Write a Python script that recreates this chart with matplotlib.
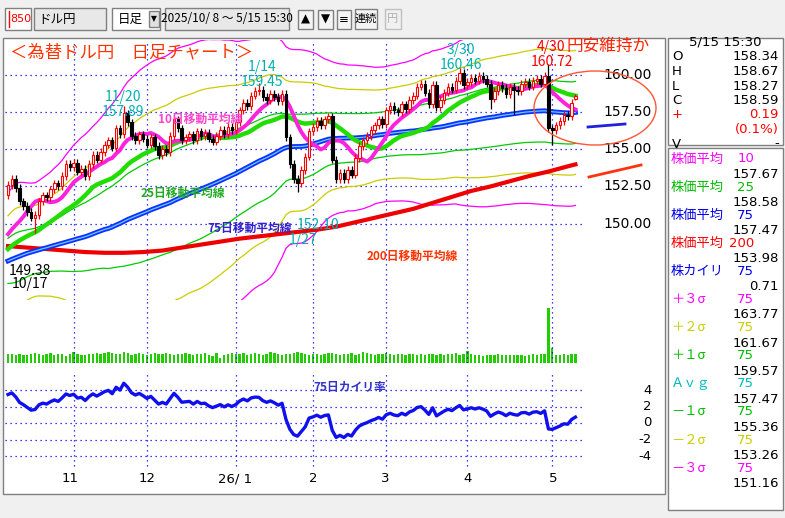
import numpy as np
import pandas as pd
import matplotlib
matplotlib.use("Agg")
import matplotlib.pyplot as plt
from matplotlib.patches import Rectangle, Ellipse

plt.rcParams['font.family'] = ['Noto Sans CJK JP', 'DejaVu Sans']

# ---------------- data ----------------
prior_closes = [144.5, 144.6, 144.0,
    143.4, 143.7, 144.5, 144.9, 145.9, 146.3, 146.8, 146.2, 147.3, 147.6, 147.7, 147.8, 148.4, 148.6, 147.4,
    148.8, 147.6, 147.3, 146.6, 146.9, 147.7, 148.2, 150.7,
    147.4, 147.0, 147.6, 147.4, 147.1, 147.7, 147.8, 148.2, 147.3, 147.8, 147.2, 147.7, 147.3, 147.7, 147.8,
    148.4, 147.0, 147.4, 147.4, 146.9, 147.1,
    148.4, 148.2, 148.1, 147.4, 147.7, 147.3, 147.4, 147.3, 147.2, 147.7, 147.5, 146.9, 147.4, 147.9, 148.0,
    147.7, 148.3, 148.8, 149.8, 149.5, 148.9, 148.1,
    147.1, 147.3, 147.5, 150.3, 151.9]

closes = [152.6, 153.0, 152.4, 151.5, 151.2, 150.8, 150.4, 150.6, 151.5, 151.9,
    151.8, 152.3, 152.7, 152.5, 153.2, 154.0, 153.8, 154.1,
    153.5, 153.7, 153.2, 154.0, 154.6, 154.3, 154.8,
    155.3, 155.6, 155.1, 156.4, 156.0, 157.4,
    156.8, 155.9, 155.6, 156.0, 155.7, 155.3,
    155.8, 155.2, 154.6, 155.0, 154.8, 155.9, 157.0, 156.4,
    155.6, 155.8, 156.0, 155.6, 156.2, 155.9, 156.1, 155.7,
    155.5, 155.9, 156.3, 156.0, 156.5, 156.3,
    156.8, 157.6, 158.1, 157.9, 158.6, 158.9,
    159.0, 158.5, 158.3, 158.7, 158.5, 158.2, 158.7,
    155.8, 154.0, 153.0, 152.7,
    153.6, 154.5, 156.2, 156.5, 156.9, 156.6, 157.0, 157.2,
    154.3, 153.0, 153.4, 153.0, 153.6, 153.3, 154.4,
    155.2, 155.6, 155.9, 156.3, 156.6, 157.0, 156.7,
    157.6, 157.9, 157.6, 157.5, 158.0, 157.7, 158.3, 158.6,
    159.2, 159.4, 158.8, 158.0, 159.3, 157.8, 158.3,
    158.8, 159.2, 159.0, 159.6, 160.1, 159.3,
    159.5, 159.8, 159.6, 159.9, 159.7, 159.4, 158.4, 158.9,
    159.3, 159.1, 158.7, 159.2, 159.0, 158.9, 159.4,
    159.5, 159.2, 159.6, 159.7, 159.4, 159.9, 156.4,
    156.3, 156.6, 156.9, 157.3, 157.2, 158.1, 158.59]

high_override = {30: 157.89, 65: 159.45, 117: 160.46, 140: 160.72, 147: 158.67}
low_override = {7: 149.38, 75: 152.10, 141: 155.3, 125: 157.7, 131: 157.3, 147: 158.27}

volume = [9, 9, 8, 9, 8, 8, 9, 10, 9, 8, 9, 10, 8, 9, 9, 7, 9, 11, 9, 8, 8, 9, 9, 10, 9,
          10, 11, 10, 9, 9, 11, 10, 8, 9, 10, 9, 8, 9, 10, 9, 9, 10, 9, 8, 9, 9, 10, 9, 8, 9,
          9, 10, 8, 7, 10, 5, 8, 9, 10, 9, 9, 10, 8, 9, 10, 9, 8, 9, 11, 10, 9, 8, 9, 9, 10,
          11, 10, 9, 8, 9, 9, 8, 9, 10, 10, 9, 8, 9, 9, 10, 8, 9, 11, 10, 9, 8, 9, 9, 10, 9,
          8, 9, 9, 8, 9, 9, 8, 9, 8, 9, 9, 8, 9, 8, 9, 9, 10, 8, 9, 12, 9, 8, 8, 7, 8, 8,
          8, 9, 8, 8, 8, 8, 8, 8, 7, 8, 9, 8, 9, 9, 55, 15, 8, 8, 9, 8, 9, 9]

ma200_idx = list(range(0, 146, 5)) + [147]
ma200_val = [148.5, 148.4, 148.3, 148.2, 148.1, 148.05, 148.05, 148.1, 148.2, 148.4, 148.6, 148.8,
             149.0, 149.15, 149.3, 149.45, 149.6, 149.8, 150.1, 150.4, 150.7, 151.0, 151.4, 151.8,
             152.2, 152.5, 152.85, 153.2, 153.5, 153.85, 153.98]

month_idx = [17, 36, 59, 79, 98, 119, 141]
month_lbl_x = [70, 147, 235, 313, 385, 468, 553]
month_lbl = ["11", "12", "26/ 1", "2", "3", "4", "5"]
price_ticks = [160.0, 157.5, 155.0, 152.5, 150.0]
kairi_ticks = [4, 2, 0, -2, -4]

# ---------------- derived ----------------
N = len(closes)
allc = pd.Series(prior_closes + closes)
P = len(prior_closes)
ma10 = allc.rolling(10).mean().values[P:]
ma25 = allc.rolling(25).mean().values[P:]
ma75 = allc.rolling(75, min_periods=60).mean().values[P:]
sd75 = allc.rolling(75, min_periods=60).std(ddof=0).values[P:]
c = np.array(closes)
o = np.array([prior_closes[-1]] + closes[:-1])
o[147] = 158.34
hi = np.maximum(o, c) + 0.25
lo = np.minimum(o, c) - 0.25
for k, v in high_override.items(): hi[k] = v
for k, v in low_override.items(): lo[k] = v
kairi = (c - ma75) / ma75 * 100
x = np.arange(N)

W, H = 785, 518
fig = plt.figure(figsize=(W/100, H/100), dpi=100, facecolor='#f0f0f0')

def ax_px(x0, y0, x1, y1, z=1):
    a = fig.add_axes([x0/W, 1-y1/H, (x1-x0)/W, (y1-y0)/H])
    a.set_zorder(z)
    return a

bg = ax_px(0, 0, W, H, z=0)
bg.set_xlim(0, W); bg.set_ylim(H, 0); bg.axis('off')
bg.add_patch(Rectangle((3, 38), 662, 456, facecolor='white', edgecolor='#808080', lw=1))
bg.add_patch(Rectangle((668, 38), 115, 107, facecolor='white', edgecolor='#808080', lw=1))
bg.add_patch(Rectangle((668, 148), 115, 362, facecolor='white', edgecolor='#808080', lw=1))

XL = (-0.78, 170.2)
dot = dict(color='#0000ff', lw=0.9, ls=(0, (1, 3)))

# main price axes
ax = ax_px(5, 40, 665, 300, z=2)
ax.set_facecolor('none')
ax.set_xlim(*XL)
ax.set_ylim(160 - 260/17.2, 160 + 40/17.2)
ax.axis('off')
for t in price_ticks:
    ax.plot([XL[0], 149], [t, t], **dot, zorder=1)
    ax.text(166.8, t, f"{t:.2f}", ha='right', va='center', fontsize=10, family='DejaVu Sans')
for m in month_idx:
    ax.axvline(m, **dot, zorder=1)

for k, col in [(3, '#ff00ff'), (2, '#cccc00'), (1, '#00cc00')]:
    ax.plot(x, ma75 + k*sd75, color=col, lw=0.9, zorder=2)
    ax.plot(x, ma75 - k*sd75, color=col, lw=0.9, zorder=2)
ax.plot(ma200_idx, ma200_val, color='#ee0000', lw=3, zorder=3)
ax.plot(x, ma75, color='#1030ff', lw=3.5, zorder=3)
ax.plot(x, ma75, color='#66ccff', lw=0.9, zorder=3)
ax.plot(x, ma25, color='#22dd00', lw=3.2, zorder=4)
ax.plot(x, ma10, color='#ff22dd', lw=2.8, zorder=5)

up = c >= o
ax.vlines(x[up], lo[up], hi[up], color='red', lw=0.9, zorder=6)
ax.vlines(x[~up], lo[~up], hi[~up], color='black', lw=0.9, zorder=6)
body = np.maximum(np.abs(c - o), 0.04)
ax.bar(x[up], body[up], bottom=np.minimum(o, c)[up], width=0.65, facecolor='white', edgecolor='red', lw=0.8, zorder=7)
ax.bar(x[~up], body[~up], bottom=np.minimum(o, c)[~up], width=0.65, facecolor='black', edgecolor='black', lw=0.8, zorder=7)

# volume
av = ax_px(5, 300, 665, 363, z=2)
av.set_facecolor('none'); av.axis('off')
av.set_xlim(*XL); av.set_ylim(0, 63)
av.bar(x, volume, width=0.6, color='#22cc00')
for m in month_idx:
    av.axvline(m, **dot)

# kairi
ak = ax_px(5, 372, 665, 470, z=2)
ak.set_facecolor('none'); ak.axis('off')
ak.set_xlim(*XL); ak.set_ylim(-(470-423)/8.25, (423-372)/8.25)
for t in kairi_ticks:
    ak.plot([XL[0], 149], [t, t], **dot)
    ak.text(166.8, t, str(t), ha='right', va='center', fontsize=9.5, family='DejaVu Sans')
for m in month_idx:
    ak.plot([m, m], [-5.2, 6.2], **dot)
ak.plot(x, kairi, color='#1010ee', lw=2.4)

# overlay
ov = ax_px(0, 0, W, H, z=5)
ov.set_facecolor('none'); ov.set_xlim(0, W); ov.set_ylim(H, 0); ov.axis('off')
for xl, lb in zip(month_lbl_x, month_lbl):
    ov.text(xl, 479, lb, ha='center', va='center', fontsize=9.5, family='DejaVu Sans')

ov.text(10, 52, "＜為替ドル円　日足チャート＞", color='#ff3300', fontsize=12.5, va='center')
ov.text(566, 46, "円安維持か", color='#ff2200', fontsize=12, va='center')
ov.text(551, 47, "4/30", color='#ff0000', fontsize=10, ha='center', va='center')
ov.text(552, 62, "160.72", color='#ff0000', fontsize=10, ha='center', va='center')
cy = '#00b0b0'
for (xx, y1, a, b) in [(461, 50, "3/30", "160.46"), (262, 67, "1/14", "159.45"), (123, 97, "11/20", "157.89")]:
    ov.text(xx, y1, a, color=cy, fontsize=10, ha='center', va='center')
    ov.text(xx, y1 + 15, b, color=cy, fontsize=10, ha='center', va='center')
ov.text(318, 225, "152.10", color=cy, fontsize=10, ha='center', va='center')
ov.text(303, 240, "1/27", color=cy, fontsize=10, ha='center', va='center')
ov.text(30, 271, "149.38", color='black', fontsize=10, ha='center', va='center')
ov.text(30, 284, "10/17", color='black', fontsize=10, ha='center', va='center')
ov.text(200, 119, "10日移動平均線", color='#ff44cc', fontsize=8.5, weight='bold', ha='center', va='center')
ov.text(183, 193, "25日移動平均線", color='#22aa22', fontsize=8.5, weight='bold', ha='center', va='center')
ov.text(250, 228, "75日移動平均線", color='#3322cc', fontsize=8.5, weight='bold', ha='center', va='center')
ov.text(412, 256, "200日移動平均線", color='#ff3300', fontsize=8.5, weight='bold', ha='center', va='center')
ov.text(350, 387, "75日カイリ率", color='#3333cc', fontsize=8.5, weight='bold', ha='center', va='center')
ov.add_patch(Ellipse((595, 108), 122, 74, fill=False, edgecolor='#ff5533', lw=1))
ov.plot([588, 625], [127, 124], color='#2020dd', lw=2)
ov.plot([589, 641], [177, 165], color='#ff3311', lw=2)

# toolbar
def box(x0, y0, x1, y1, fc='white', ec='#808080'):
    ov.add_patch(Rectangle((x0, y0), x1-x0, y1-y0, facecolor=fc, edgecolor=ec, lw=1))
box(5, 8, 31, 30)
ov.plot([9, 9], [11, 27], color='red', lw=1)
ov.text(20.5, 19, "850", color='red', fontsize=8, ha='center', va='center', family='DejaVu Sans')
box(34, 8, 106, 30, fc='#e8e8e8')
ov.text(38, 19, "ドル円", fontsize=9, va='center')
box(112, 8, 160, 30)
ov.text(118, 19, "日足", fontsize=9, va='center')
box(149, 11, 159, 27, fc='#e0e0e0')
ov.text(154, 19, "▼", fontsize=5.5, ha='center', va='center', family='DejaVu Sans')
box(165, 8, 289, 30, fc='#e8e8e8')
ov.text(227, 19, "2025/10/ 8 ～ 5/15 15:30", fontsize=8.5, ha='center', va='center')
for (x0, x1, s) in [(298, 313, "▲"), (318, 333, "▼"), (337, 351, "≡")]:
    box(x0, 10, x1, 29, fc='#f4f4f4')
    ov.text((x0+x1)/2, 19.5, s, fontsize=8.5, ha='center', va='center', family='DejaVu Sans')
box(355, 9, 377, 29, fc='#f4f4f4')
ov.text(366, 19, "連続", fontsize=8, ha='center', va='center')
box(385, 9, 401, 29, fc='#f0f0f0', ec='#c0c0c0')
ov.text(393, 19, "円", fontsize=8, ha='center', va='center', color='#b0b0b0')

# right panel
ov.text(725, 42, "5/15 15:30", fontsize=9.5, ha='center', va='center', family='DejaVu Sans')
rows = [("O", "158.34", 'black'), ("H", "158.67", 'black'), ("L", "158.27", 'black'), ("C", "158.59", 'black'),
        ("+", "0.19", 'red'), ("", "(0.1%)", 'red'), ("V", "-", 'black')]
for j, (a, b, col) in enumerate(rows):
    yy = 57 + j*14.5
    ov.text(672, yy, a, color=col, fontsize=9.5, va='center', family='DejaVu Sans')
    ov.text(779, yy, b, color=col, fontsize=9.5, va='center', ha='right', family='DejaVu Sans')

mag, grn, blu, red, yel, cyn = '#ff00ff', '#00bb00', '#0000ee', '#ff0000', '#cccc00', '#00bbbb'
prow = [("株価平均", "10", mag, "157.67"), ("株価平均", "25", grn, "158.58"), ("株価平均", "75", blu, "157.47"),
        ("株価平均", "200", red, "153.98"), ("株カイリ", "75", blu, "0.71"),
        ("＋３σ", "75", mag, "163.77"), ("＋２σ", "75", yel, "161.67"), ("＋１σ", "75", grn, "159.57"),
        ("Ａｖｇ", "75", cyn, "157.47"), ("－１σ", "75", grn, "155.36"), ("－２σ", "75", yel, "153.26"),
        ("－３σ", "75", mag, "151.16")]
for j, (a, n, col, v) in enumerate(prow):
    yy = 159 + j*28.1
    ov.text(671, yy, a, color=col, fontsize=9.5, va='center')
    ov.text(754, yy, n, color=col, fontsize=9.5, va='center', ha='right', family='DejaVu Sans')
    ov.text(779, yy + 15.5, v, color='black', fontsize=9.5, va='center', ha='right', family='DejaVu Sans')

fig.savefig("out.png", dpi=100, facecolor=fig.get_facecolor())
